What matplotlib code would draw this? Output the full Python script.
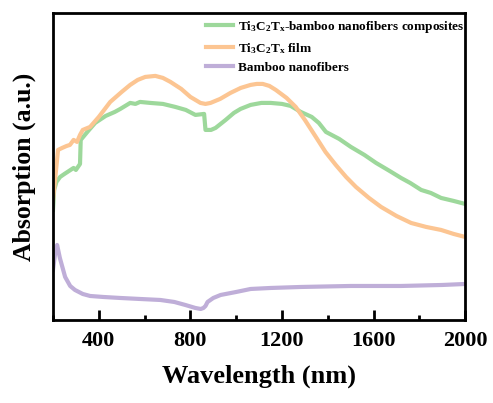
import numpy as np
import matplotlib
matplotlib.use("Agg")
import matplotlib.pyplot as plt
from matplotlib.ticker import MultipleLocator

plt.rcParams['font.family'] = 'Liberation Serif'
plt.rcParams['font.weight'] = 'bold'
plt.rcParams['mathtext.fontset'] = 'custom'
plt.rcParams['mathtext.rm'] = 'Liberation Serif:bold'
plt.rcParams['mathtext.it'] = 'Liberation Serif:bold'
plt.rcParams['mathtext.bf'] = 'Liberation Serif:bold'

# composite (green)
wl_comp = [200, 205, 215, 231, 250, 270, 290, 300, 318, 321, 350, 384, 430, 470, 494, 537,
           560, 580, 625, 680, 734, 780, 822, 860, 866, 890, 910, 954, 990, 1019, 1063,
           1110, 1151, 1200, 1238, 1282, 1330, 1361, 1392, 1450, 1501, 1560, 1611, 1670,
           1720, 1760, 1808, 1850, 1895, 1950, 2000]
abs_comp = [1.10, 1.30, 1.38, 1.43, 1.46, 1.49, 1.52, 1.50, 1.56, 1.80, 1.88, 1.97, 2.04,
            2.08, 2.11, 2.17, 2.16, 2.18, 2.17, 2.16, 2.13, 2.10, 2.05, 2.06, 1.90, 1.90,
            1.92, 2.00, 2.07, 2.11, 2.15, 2.17, 2.17, 2.16, 2.14, 2.08, 2.03, 1.97, 1.88,
            1.81, 1.73, 1.65, 1.57, 1.49, 1.42, 1.37, 1.30, 1.27, 1.22, 1.19, 1.16]

# Ti3C2Tx film (orange)
wl_film = [200, 209, 222, 240, 260, 274, 290, 305, 318, 330, 362, 400, 450, 500, 537,
           570, 603, 647, 680, 713, 760, 800, 844, 866, 888, 930, 975, 1020, 1063, 1090,
           1116, 1145, 1173, 1220, 1260, 1300, 1348, 1390, 1435, 1480, 1523, 1580, 1633,
           1700, 1764, 1830, 1895, 1950, 2000]
abs_film = [1.20, 1.40, 1.70, 1.72, 1.74, 1.75, 1.80, 1.78, 1.85, 1.90, 1.93, 2.03, 2.18,
            2.28, 2.35, 2.40, 2.43, 2.44, 2.42, 2.38, 2.31, 2.23, 2.17, 2.16, 2.17, 2.21,
            2.27, 2.32, 2.35, 2.36, 2.36, 2.34, 2.30, 2.22, 2.13, 2.00, 1.83, 1.68, 1.55,
            1.43, 1.33, 1.22, 1.13, 1.04, 0.97, 0.93, 0.90, 0.86, 0.83]

# bamboo nanofibers (purple)
wl_bnf = [200, 210, 218, 230, 253, 275, 296, 330, 362, 420, 494, 580, 669, 730, 778,
          822, 845, 857, 866, 875, 900, 932, 1000, 1063, 1150, 1282, 1500, 1720, 1900, 2000]
abs_bnf = [0.50, 0.68, 0.75, 0.62, 0.43, 0.34, 0.30, 0.26, 0.24, 0.23, 0.22, 0.21, 0.20,
           0.18, 0.15, 0.12, 0.11, 0.12, 0.14, 0.18, 0.22, 0.25, 0.28, 0.31, 0.32, 0.33,
           0.34, 0.34, 0.35, 0.36]

fig = plt.figure(figsize=(4.93, 4.03), dpi=100)
ax = fig.add_axes([0.1075, 0.206, 0.836, 0.762])

ax.plot(wl_comp, abs_comp, color='#9dd89b', lw=3, label=r'Ti$_3$C$_2$T$_x$-bamboo nanofibers composites')
ax.plot(wl_film, abs_film, color='#fcc592', lw=3, label=r'Ti$_3$C$_2$T$_x$ film')
ax.plot(wl_bnf, abs_bnf, color='#bfaed8', lw=3, label='Bamboo nanofibers')

ax.set_xlim(200, 2000)
ax.set_ylim(0, 3.07)
ax.xaxis.set_minor_locator(MultipleLocator(200))
ax.set_xticks([400, 800, 1200, 1600, 2000])
ax.set_yticks([])
ax.tick_params(axis='x', which='major', direction='in', length=7, width=2, labelsize=16, pad=8)
ax.tick_params(axis='x', which='minor', direction='in', length=3.5, width=2)
for s in ax.spines.values():
    s.set_linewidth(2)

ax.set_xlabel('Wavelength (nm)', fontsize=19, fontweight='bold', labelpad=10)
ax.set_ylabel('Absorption (a.u.)', fontsize=18.5, fontweight='bold', labelpad=12)

ax.legend(loc='upper left', bbox_to_anchor=(0.35, 1.01), frameon=False, fontsize=9.5,
          handlelength=2.0, handletextpad=0.4, labelspacing=0.45, borderaxespad=0.3)

fig.savefig('out.png', dpi=100)
